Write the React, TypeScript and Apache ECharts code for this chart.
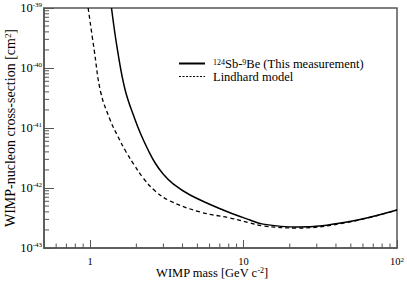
import React, { useEffect, useRef } from "react";
import * as echarts from "echarts";

const measMass = [1.377, 1.506, 1.69, 1.965, 2.149, 2.387, 2.652, 2.989, 3.473, 4.48, 7.35, 11.02, 13.4, 22.3, 47.2, 100];
const measSigma = [1e-39, 2.0e-40, 4.3e-41, 1.36e-41, 7.65e-42, 4.3e-42, 2.61e-42, 1.71e-42, 1.17e-42, 7.65e-43, 4.3e-43, 2.93e-43, 2.5e-43, 2.24e-43, 2.71e-43, 4.3e-43];

const lindMass = [0.97, 1.062, 1.17, 1.35, 1.522, 1.716, 1.935, 2.214, 2.652, 3.32, 5.21, 8.17, 11.02, 13.4, 22.3, 47.2, 100];
const lindSigma = [1e-39, 2.0e-40, 3.98e-41, 1.36e-41, 7.08e-42, 3.98e-42, 2.42e-42, 1.47e-42, 8.9e-43, 6.07e-43, 3.98e-43, 3.16e-43, 2.61e-43, 2.33e-43, 2.15e-43, 2.66e-43, 4.3e-43];

const xMin = 0.5;
const xMax = 100;
const yMinExp = -43;
const yMaxExp = -39;
const xMinorTicks = [0.6, 0.7, 0.8, 0.9, 2, 3, 4, 5, 6, 7, 8, 9, 20, 30, 40, 50, 60, 70, 80, 90];
const yMinorMultipliers = [2, 3, 4, 5, 6, 7, 8, 9];

// ECharts rounds log-axis ticks to 10 decimals, so plot sigma in units of 1e-43 cm^2
const yUnitExp = yMinExp;
const toPlot = (s: number) => s / Math.pow(10, yUnitExp);

const seriesNames = ["meas", "lind"];
const FONT = "Liberation Serif";

export default function App() {
  const ref = useRef<HTMLDivElement>(null);
  useEffect(() => {
    if (!ref.current) return;
    const chart = echarts.init(ref.current, null, { renderer: "svg" });
    const axisColor = "#555";
    const yMinP = Math.pow(10, yMinExp - yUnitExp);
    const yMaxP = Math.pow(10, yMaxExp - yUnitExp);
    const yMinorPlot: number[] = [];
    for (let e = 0; e < yMaxExp - yMinExp; e++) {
      yMinorMultipliers.forEach((k) => yMinorPlot.push(k * Math.pow(10, e)));
    }
    chart.setOption({
      animation: false,
      backgroundColor: "#fff",
      grid: {
        left: 44,
        right: 10,
        top: 8,
        bottom: 34,
        show: true,
        borderColor: axisColor,
        borderWidth: 1.5,
        backgroundColor: "transparent",
        containLabel: false,
        outerBoundsMode: "none",
      },
      legend: {
        data: [
          { name: seriesNames[0], itemStyle: { opacity: 0 } },
          { name: seriesNames[1], itemStyle: { opacity: 0 }, lineStyle: { type: [2, 1.5], width: 1.2 } },
        ],
        left: 173,
        top: 52,
        orient: "vertical",
        itemWidth: 26,
        itemHeight: 10,
        itemGap: 0,
        itemStyle: { opacity: 0 },
        formatter: (name: string) =>
          name === "meas" ? "{s|124}{t|Sb-}{s|9}{t|Be (This measurement)}" : "{t|Lindhard model}",
        textStyle: {
          fontFamily: FONT,
          color: "#000",
          padding: [0, 0, 0, 3],
          lineHeight: 11,
          rich: {
            t: { fontFamily: FONT, fontSize: 12.5, lineHeight: 11, color: "#000" },
            s: { fontFamily: FONT, fontSize: 8, lineHeight: 11, color: "#000", verticalAlign: "top", padding: [0, 0, 4, 0] },
          },
        },
      },
      xAxis: {
        type: "log",
        logBase: 10,
        min: xMin,
        max: xMax,
        name: "{t|WIMP mass [GeV c}{s|-2}{t|]}",
        nameLocation: "middle",
        nameGap: 18,
        nameMoveOverlap: false,
        nameTextStyle: {
          padding: [0, 17, 0, 0],
          rich: {
            t: { fontFamily: FONT, fontSize: 12.5, color: "#000" },
            s: { fontFamily: FONT, fontSize: 8, color: "#000", verticalAlign: "top", padding: [0, 0, 6, 0] },
          },
        },
        axisLine: { show: true, lineStyle: { color: axisColor, width: 1.5 } },
        axisTick: { show: true, inside: true, length: 8, lineStyle: { color: axisColor } },
        splitLine: { show: false },
        minorTick: { show: false },
        axisLabel: {
          margin: 8,
          formatter: (v: number) => {
            const e = Math.round(Math.log10(v));
            if (Math.abs(Math.log10(v) - e) > 1e-6) return "";
            if (e === 0) return "{t|1}";
            if (e === 1) return "{t|10}";
            return "{t|10}{s|" + e + "}";
          },
          rich: {
            t: { fontFamily: FONT, fontSize: 10.5, color: "#000" },
            s: { fontFamily: FONT, fontSize: 7, color: "#000", verticalAlign: "top", padding: [0, 0, 4, 0] },
          },
        },
      },
      yAxis: {
        type: "log",
        logBase: 10,
        min: yMinP,
        max: yMaxP,
        name: "{t|WIMP-nucleon cross-section [cm}{s|2}{t|]}",
        nameLocation: "middle",
        nameGap: 26,
        nameMoveOverlap: false,
        nameTextStyle: {
          rich: {
            t: { fontFamily: FONT, fontSize: 14, color: "#000" },
            s: { fontFamily: FONT, fontSize: 9, color: "#000", verticalAlign: "top", padding: [0, 0, 6, 0] },
          },
        },
        axisLine: { show: true, lineStyle: { color: axisColor, width: 1.5 } },
        axisTick: { show: true, inside: true, length: 10, lineStyle: { color: axisColor } },
        splitLine: { show: false },
        minorTick: { show: false },
        axisLabel: {
          margin: 2,
          formatter: (v: number) => {
            const e = Math.round(Math.log10(v)) + yUnitExp;
            return "{t|10}{s|" + e + "}";
          },
          rich: {
            t: { fontFamily: FONT, fontSize: 12.5, color: "#000" },
            s: { fontFamily: FONT, fontSize: 7, color: "#000", verticalAlign: "top", padding: [0, 0, 6, 0] },
          },
        },
      },
      series: [
        {
          name: seriesNames[0],
          type: "line",
          data: measMass.map((m, i) => [m, toPlot(measSigma[i])]),
          showSymbol: false,
          symbol: "none",
          smooth: 0.4,
          lineStyle: { color: "#000", width: 1.5, type: "solid" },
          itemStyle: { color: "#000" },
          clip: true,
          z: 3,
        },
        {
          name: seriesNames[1],
          type: "line",
          data: lindMass.map((m, i) => [m, toPlot(lindSigma[i])]),
          showSymbol: false,
          symbol: "none",
          smooth: 0.4,
          lineStyle: { color: "#000", width: 1.3, type: [4, 3] },
          itemStyle: { color: "#000" },
          clip: true,
          z: 3,
        },
        {
          name: "xminor",
          type: "custom",
          silent: true,
          clip: false,
          data: xMinorTicks.map((v) => [v, yMinP]),
          renderItem: (params: any, api: any) => {
            const p = api.coord([api.value(0), api.value(1)]);
            return {
              type: "line",
              shape: { x1: p[0], y1: p[1], x2: p[0], y2: p[1] - 4.5 },
              style: { stroke: axisColor, lineWidth: 1 },
            };
          },
        },
        {
          name: "yminor",
          type: "custom",
          silent: true,
          clip: false,
          data: yMinorPlot.map((v) => [xMin, v]),
          renderItem: (params: any, api: any) => {
            const p = api.coord([api.value(0), api.value(1)]);
            return {
              type: "line",
              shape: { x1: p[0], y1: p[1], x2: p[0] + 5, y2: p[1] },
              style: { stroke: axisColor, lineWidth: 1 },
            };
          },
        },
      ],
    });
    return () => chart.dispose();
  }, []);
  return (
    <div
      ref={ref}
      style={{ position: "fixed", left: 0, top: 0, width: 407, height: 282, background: "#fff" }}
    />
  );
}
